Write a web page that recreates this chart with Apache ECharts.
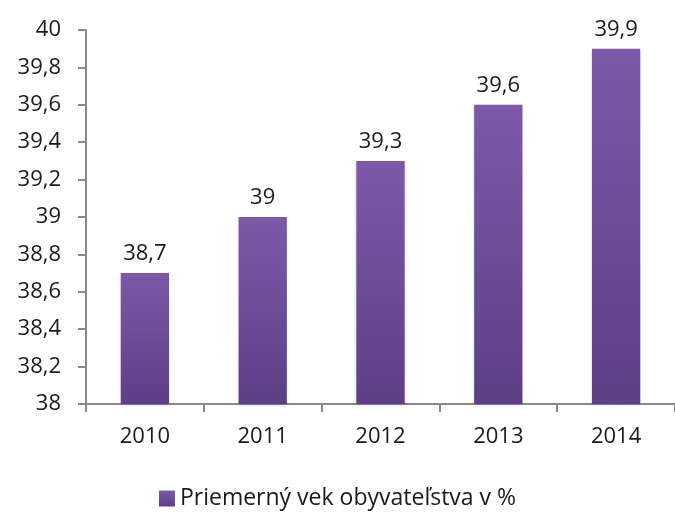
<!DOCTYPE html>
<html>
<head>
<meta charset="utf-8">
<script src="https://cdn.jsdelivr.net/npm/echarts@6/dist/echarts.min.js"></script>
<style>
  html, body { margin: 0; padding: 0; background: #fff; }
  #chart { width: 675px; height: 514px; }
</style>
</head>
<body>
<div id="chart"></div>
<script>
var years = ['2010', '2011', '2012', '2013', '2014'];
var vek = [38.7, 39.0, 39.3, 39.6, 39.9];
var seriesName = 'Priemerný vek obyvateľstva v %';

function fmt(v) {
    return String(Math.round(v * 10) / 10).replace('.', ',');
}

var myChart = echarts.init(document.getElementById('chart'));
var option = {
    textStyle: { fontFamily: 'Open Sans' },
    animation: false,
    grid: {
        left: 86,
        right: -9,
        top: 30,
        bottom: 110
    },
    legend: {
        data: [seriesName],
        bottom: -1,
        left: 'center',
        itemWidth: 16,
        itemHeight: 16,
        icon: 'rect',
        itemGap: 6,
        textStyle: { fontSize: 23, color: '#1a1a1a', fontFamily: 'Open Sans' }
    },
    xAxis: {
        type: 'category',
        data: years,
        axisLine: { lineStyle: { color: '#8a8a8a', width: 2 } },
        axisTick: { show: true, length: 8, lineStyle: { color: '#8a8a8a', width: 2 } },
        axisLabel: { fontSize: 22, color: '#1a1a1a', margin: 22 }
    },
    yAxis: {
        type: 'value',
        min: 38,
        max: 40,
        interval: 0.2,
        splitLine: { show: false },
        axisLine: { show: true, lineStyle: { color: '#8a8a8a', width: 2 } },
        axisTick: { show: true, length: 8, lineStyle: { color: '#8a8a8a', width: 2 } },
        axisLabel: {
            fontSize: 22,
            color: '#1a1a1a',
            margin: 25,
            formatter: function (v) { return fmt(v); }
        }
    },
    series: [
        {
            name: seriesName,
            type: 'bar',
            data: vek,
            barWidth: '41%',
            itemStyle: {
                color: new echarts.graphic.LinearGradient(0, 0, 0, 1, [
                    { offset: 0, color: '#7d59a9' },
                    { offset: 1, color: '#5d3f86' }
                ]),
                shadowColor: 'rgba(0,0,0,0.2)',
                shadowBlur: 3,
                shadowOffsetY: 1
            },
            label: {
                show: true,
                position: 'top',
                distance: 8,
                fontSize: 22,
                color: '#1a1a1a',
                formatter: function (p) { return fmt(p.value); }
            }
        }
    ]
};
myChart.setOption(option);
</script>
</body>
</html>
